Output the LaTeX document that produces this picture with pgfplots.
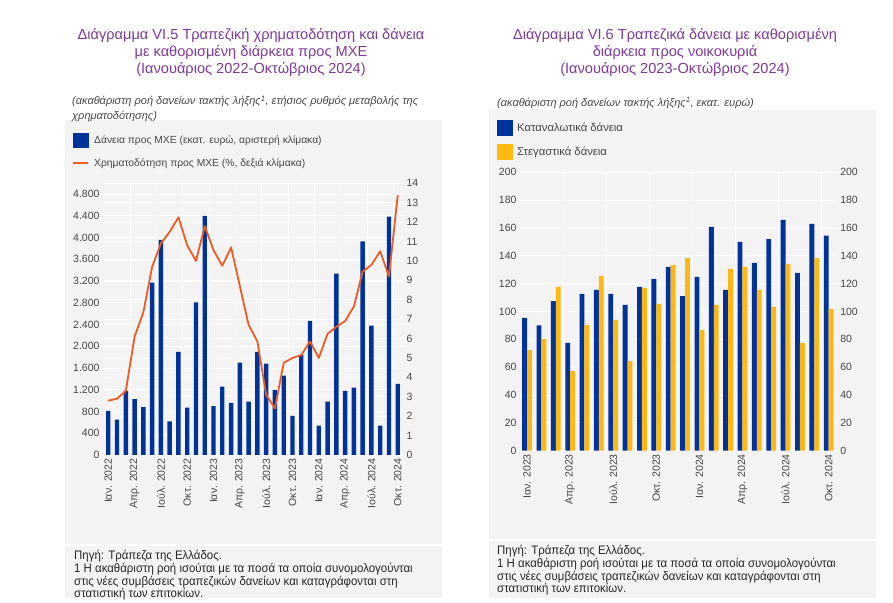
\documentclass[border=0pt]{standalone}
\usepackage{fontspec}
\setmainfont{Liberation Sans}
\newfontfamily\notefont[FakeStretch=0.93]{Liberation Sans}
\usepackage{pgfplots}
\usepackage{pgfplotstable}
\pgfplotsset{compat=1.18}
\definecolor{bblue}{RGB}{0,51,153}
\definecolor{borange}{RGB}{240,90,35}
\definecolor{byellow}{RGB}{253,184,19}
\definecolor{panel}{RGB}{243,243,243}
\definecolor{ttl}{RGB}{125,58,152}
\definecolor{txt}{RGB}{70,70,70}

\pgfplotstableread{
x v r
0 810 2.8
1 650 2.9
2 1180 3.3
3 1030 6.1
4 880 7.35
5 3170 9.7
6 3960 10.9
7 620 11.5
8 1900 12.25
9 870 10.8
10 2810 10.0
11 4400 11.8
12 900 10.55
13 1260 9.75
14 960 10.7
15 1700 8.7
16 980 6.7
17 1900 5.85
18 1680 3.1
19 1200 2.4
20 1460 4.75
21 720 5.0
22 1840 5.15
23 2470 5.85
24 540 5.0
25 980 6.25
26 3340 6.6
27 1180 6.9
28 1240 7.65
29 3930 9.45
30 2380 9.8
31 540 10.5
32 4385 9.2
33 1310 13.4
}\leftdata

\pgfplotstableread{
x c h
0 95.5 72.3
1 90 80.2
2 107.5 117.6
3 77.4 57.2
4 112.6 90.3
5 115.6 125.6
6 112.6 93.9
7 104.7 64.4
8 117.6 116.9
9 123.5 105.5
10 132 133.4
11 111 138.4
12 124.8 86.7
13 160.8 104.8
14 115.6 130.6
15 150 132
16 135 115.6
17 152 103.4
18 165.8 134.2
19 127.7 77.4
20 163 138.4
21 154.5 101.8
}\rightdata

\begin{document}
\begin{tikzpicture}[x=1pt,y=1pt]
\path[use as bounding box, fill=white] (0,0) rectangle (893,602);
% panels
\fill[panel] (65,482) rectangle (442,4);
\fill[panel] (489,492) rectangle (876,4);
\draw[white, line width=1.5pt] (65,57) -- (442,57);
\draw[white, line width=1.5pt] (489,62) -- (876,62);

% titles
\node[align=center, text=ttl, font=\fontsize{14.6}{17}\selectfont] at (251,549)
 {Διάγραμμα VI.5 Τραπεζική χρηματοδότηση και δάνεια\\με καθορισμένη διάρκεια προς ΜΧΕ\\(Ιανουάριος 2022-Οκτώβριος 2024)};
\node[align=center, text=ttl, font=\fontsize{14.6}{17}\selectfont] at (675,549)
 {Διάγραμμα VI.6 Τραπεζικά δάνεια με καθορισμένη\\διάρκεια προς νοικοκυριά\\(Ιανουάριος 2023-Οκτώβριος 2024)};
% subtitles
\node[anchor=west, align=left, text=txt, font=\itshape\fontsize{11}{15}\selectfont, inner sep=0pt] at (72,493)
 {(ακαθάριστη ροή δανείων τακτής λήξης\textsuperscript{1}, ετήσιος ρυθμός μεταβολής της\\χρηματοδότησης)};
\node[anchor=west, align=left, text=txt, font=\itshape\fontsize{11}{15}\selectfont, inner sep=0pt] at (497,499.3)
 {(ακαθάριστη ροή δανείων τακτής λήξης\textsuperscript{1}, εκατ. ευρώ)};
% notes
\node[anchor=north west, align=left, text=black!85, font=\notefont\fontsize{12.3}{11.5}\selectfont, inner sep=0pt] at (74,52)
 {Πηγή: Τράπεζα της Ελλάδος.\\1 Η ακαθάριστη ροή ισούται με τα ποσά τα οποία συνομολογούνται\\στις νέες συμβάσεις τραπεζικών δανείων και καταγράφονται στη\\στατιστική των επιτοκίων.};
\node[anchor=north west, align=left, text=black!85, font=\notefont\fontsize{12.3}{11.5}\selectfont, inner sep=0pt] at (497,57)
 {Πηγή: Τράπεζα της Ελλάδος.\\1 Η ακαθάριστη ροή ισούται με τα ποσά τα οποία συνομολογούνται\\στις νέες συμβάσεις τραπεζικών δανείων και καταγράφονται στη\\στατιστική των επιτοκίων.};

\pgfplotsset{
  common/.style={
    scale only axis,
    axis line style={draw=none},
    tick style={draw=none},
    tick label style={font=\fontsize{10.5}{12}\selectfont, text=txt},
    major grid style={white, line width=0.9pt},
    clip=false,
  },
}

% ===== LEFT CHART =====
\begin{axis}[common,
  at={(103pt,147pt)}, anchor=south west,
  width=300pt, height=271.7pt,
  xmin=-0.6, xmax=33.6, ymin=0, ymax=14,
  axis background/.style={fill=panel},
  axis y line*=right,
  ytick={0,1,...,14},
  yticklabel style={/pgf/number format/assume math mode=true},
  ymajorgrids,
  xtick={2.5,5.5,...,32.5}, xticklabels={}, xmajorgrids,
]
\end{axis}
\begin{axis}[common,
  at={(103pt,147pt)}, anchor=south west,
  width=300pt, height=271.7pt,
  xmin=-0.6, xmax=33.6, ymin=0, ymax=5000,
  ytick={0,400,...,4800},
  yticklabels={0,400,800,1.200,1.600,2.000,2.400,2.800,3.200,3.600,4.000,4.400,4.800},
  ymajorgrids,
  xtick={0,3,...,33},
  xticklabels={Ιαν. 2022,Απρ. 2022,Ιούλ. 2022,Οκτ. 2022,Ιαν. 2023,Απρ. 2023,Ιούλ. 2023,Οκτ. 2023,Ιαν. 2024,Απρ. 2024,Ιούλ. 2024,Οκτ. 2024},
  x tick label style={rotate=90, anchor=east},
  axis x line*=bottom, axis y line*=left,
]
\addplot[ybar, bar width=0.5, fill=bblue, draw=none] table[x=x,y=v]{\leftdata};
\end{axis}
\begin{axis}[common,
  at={(103pt,147pt)}, anchor=south west,
  width=300pt, height=271.7pt,
  xmin=-0.6, xmax=33.6, ymin=0, ymax=14,
  hide axis,
  legend cell align=left,
  legend style={at={(-0.1033,1.185)}, anchor=north west, draw=none, fill=none,
    font=\fontsize{10.3}{12}\selectfont, text=txt, row sep=9pt, column sep=3pt, inner sep=0pt},
]
\addlegendimage{legend image code/.code={\fill[bblue] (0pt,-7pt) rectangle (15pt,7pt);}}
\addlegendentry{Δάνεια προς ΜΧΕ (εκατ. ευρώ, αριστερή κλίμακα)}
\addplot[borange, line width=1.8pt, line join=round,
  legend image code/.code={\draw[borange, line width=2pt] (0pt,0pt) -- (15pt,0pt);}]
  table[x=x,y=r]{\leftdata};
\addlegendentry{Χρηματοδότηση προς ΜΧΕ (\%, δεξιά κλίμακα)}
\end{axis}

% ===== RIGHT CHART =====
\begin{axis}[common,
  at={(520pt,151.3pt)}, anchor=south west,
  width=316.7pt, height=278.4pt,
  xmin=-0.49, xmax=21.56, ymin=0, ymax=200,
  axis background/.style={fill=panel},
  ytick={0,20,...,200},
  yticklabel style={/pgf/number format/assume math mode=true},
  ymajorgrids,
  xtick={0,3,...,21},
  xticklabels={Ιαν. 2023,Απρ. 2023,Ιούλ. 2023,Οκτ. 2023,Ιαν. 2024,Απρ. 2024,Ιούλ. 2024,Οκτ. 2024},
  x tick label style={rotate=90, anchor=east},
  extra x ticks={2.5,5.5,...,20.5}, extra x tick labels={},
  extra x tick style={grid=major},
  axis x line*=bottom, axis y line*=left,
  legend cell align=left,
  legend style={at={(-0.0726,1.19)}, anchor=north west, draw=none, fill=none,
    font=\fontsize{11.3}{13}\selectfont, text=txt, row sep=8.5pt, column sep=2pt, inner sep=0pt},
]
\addplot[ybar, bar width=0.34, bar shift=-0.17, fill=bblue, draw=none,
  legend image code/.code={\fill[bblue] (0pt,-8pt) rectangle (16pt,8pt);}]
  table[x=x,y=c]{\rightdata};
\addlegendentry{Καταναλωτικά δάνεια}
\addplot[ybar, bar width=0.34, bar shift=0.17, fill=byellow, draw=none,
  legend image code/.code={\fill[byellow] (0pt,-8pt) rectangle (16pt,8pt);}]
  table[x=x,y=h]{\rightdata};
\addlegendentry{Στεγαστικά δάνεια}
\end{axis}
\begin{axis}[common,
  at={(520pt,151.3pt)}, anchor=south west,
  width=316.7pt, height=278.4pt,
  xmin=-0.49, xmax=21.56, ymin=0, ymax=200,
  axis y line*=right, axis x line=none,
  ytick={0,20,...,200},
  yticklabel style={/pgf/number format/assume math mode=true},
]
\end{axis}
\end{tikzpicture}
\end{document}
